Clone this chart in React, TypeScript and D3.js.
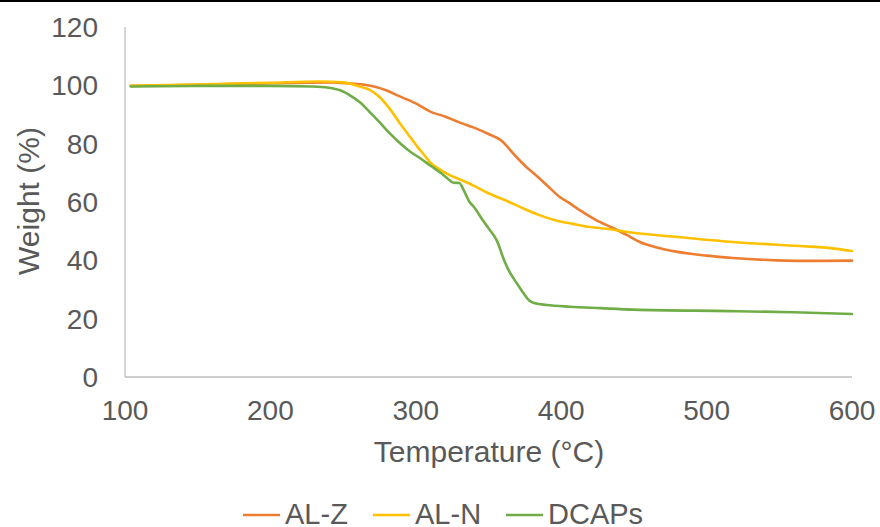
import React from "react";
import * as d3 from "d3";

const W = 880;
const H = 527;

const xTicks = [100, 200, 300, 400, 500, 600];
const yTicks = [0, 20, 40, 60, 80, 100, 120];

const seriesNames = ["AL-Z", "AL-N", "DCAPs"];
const seriesColors = ["#ED7D31", "#FFC000", "#70AD47"];

const alZ: [number, number][] = [
  [104, 99.8], [150, 100.2], [200, 100.7], [240, 101.0], [255, 100.6], [265, 100.2],
  [272, 99.5], [280, 98.2], [289, 96.2], [300, 93.8], [310, 91.0], [320, 89.3],
  [330, 87.3], [340, 85.5], [350, 83.3], [359, 81], [362, 79.5], [365, 77.8],
  [370, 75], [376, 72], [383, 69], [390, 65.8], [399, 61.7], [406, 59.5],
  [413, 57.1], [424, 53.8], [436, 51], [445, 48.7], [454, 46.3], [465, 44.5],
  [480, 42.9], [500, 41.6], [518, 40.8], [548, 40], [575, 39.8], [600, 39.9],
];

const alN: [number, number][] = [
  [104, 99.8], [150, 100.3], [200, 100.9], [233, 101.3], [250, 101], [260, 99.8],
  [268, 98.5], [275, 96], [282, 92], [289, 87], [295, 83], [301, 79], [306, 76],
  [310, 73.5], [317, 71], [323, 69.3], [330, 67.8], [339, 65.8], [350, 63],
  [362, 60.5], [373, 58], [385, 55.5], [397, 53.6], [408, 52.5], [420, 51.4],
  [431, 50.8], [444, 49.8], [454, 49.2], [480, 48], [518, 46.3], [564, 44.9],
  [585, 44.2], [600, 43.2],
];

const dcaps: [number, number][] = [
  [104, 99.6], [150, 99.8], [200, 99.8], [229, 99.6], [240, 99.2], [248, 98.3],
  [255, 96.5], [262, 94], [268, 91], [275, 87.4], [282, 83.6], [289, 80.2],
  [296, 77.3], [303, 75], [310, 72.5], [317, 70], [322, 68], [326, 66.6],
  [330, 66.5], [333, 64], [337, 60], [340, 58.3], [346, 53.8], [350, 51],
  [353, 49], [356, 46.5], [360, 41], [364, 36.5], [367, 34], [371, 31],
  [374, 28.8], [378, 26.2], [382, 25.3], [390, 24.7], [406, 24.1], [427, 23.6],
  [450, 23.1], [516, 22.6], [560, 22.2], [600, 21.6],
];

const seriesData = [alZ, alN, dcaps];

export default function App() {
  const x = d3.scaleLinear().domain([100, 600]).range([125, 852]);
  const y = d3.scaleLinear().domain([0, 120]).range([377, 27]);
  const line = d3
    .line<[number, number]>()
    .x((d) => x(d[0]))
    .y((d) => y(d[1]))
    .curve(d3.curveMonotoneX);

  const font = "'Liberation Sans', Arial, sans-serif";
  const textColor = "#595959";
  const legendX = [243, 373, 506];

  return (
    <svg
      width={W}
      height={H}
      style={{ position: "absolute", left: 0, top: 0, background: "#fff" }}
      fontFamily={font}
    >
      <rect x={0} y={0} width={W} height={H} fill="#fff" />
      <line x1={0} x2={W} y1={1} y2={1} stroke="#000" strokeWidth={2} />
      {/* axes */}
      <line x1={x(100)} x2={x(100)} y1={y(120)} y2={y(0)} stroke="#BFBFBF" strokeWidth={1.3} />
      <line x1={x(100)} x2={x(600)} y1={y(0)} y2={y(0)} stroke="#BFBFBF" strokeWidth={1.3} />
      {/* y tick labels */}
      {yTicks.map((t) => (
        <text
          key={"y" + t}
          x={98}
          y={y(t)}
          dy="0.36em"
          textAnchor="end"
          fontSize={28}
          fill={textColor}
        >
          {t}
        </text>
      ))}
      {/* x tick labels */}
      {xTicks.map((t) => (
        <text
          key={"x" + t}
          x={x(t)}
          y={420}
          textAnchor="middle"
          fontSize={28}
          fill={textColor}
        >
          {t}
        </text>
      ))}
      {/* axis titles */}
      <text x={489} y={462} textAnchor="middle" fontSize={30} fill={textColor}>
        Temperature (°C)
      </text>
      <text
        transform={`translate(39,201) rotate(-90)`}
        textAnchor="middle"
        fontSize={30}
        fill={textColor}
      >
        Weight (%)
      </text>
      {/* series */}
      {seriesData.map((d, i) => (
        <path
          key={seriesNames[i]}
          d={line(d) || ""}
          fill="none"
          stroke={seriesColors[i]}
          strokeWidth={2.6}
          strokeLinejoin="round"
          strokeLinecap="round"
        />
      ))}
      {/* legend */}
      {seriesNames.map((n, i) => (
        <g key={"lg" + n}>
          <line
            x1={legendX[i]}
            x2={legendX[i] + 37}
            y1={515}
            y2={515}
            stroke={seriesColors[i]}
            strokeWidth={2.6}
          />
          <text x={legendX[i] + 42} y={524} fontSize={29} fill={textColor}>
            {n}
          </text>
        </g>
      ))}
    </svg>
  );
}
